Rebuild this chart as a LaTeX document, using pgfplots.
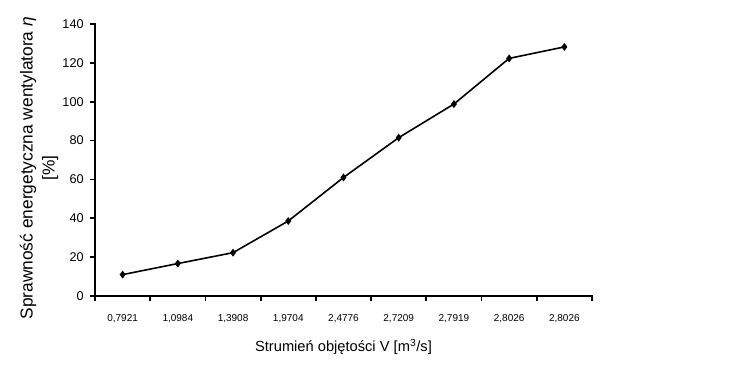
\documentclass[border=0pt]{standalone}
\usepackage{pgfplots}
\pgfplotsset{compat=1.18}
\usepackage{fontspec}
\setmainfont{Liberation Sans}
\begin{document}
\begin{tikzpicture}
\useasboundingbox (0,0) rectangle (549pt,279.75pt);
\begin{axis}[
  at={(71.25pt,57.75pt)}, anchor=south west,
  scale only axis,
  width=372.75pt, height=204pt,
  xmin=-0.5, xmax=8.5,
  ymin=0, ymax=140,
  axis x line*=bottom, axis y line*=left,
  xtick={0,...,8},
  xticklabels={{0,7921},{1,0984},{1,3908},{1,9704},{2,4776},{2,7209},{2,7919},{2,8026},{2,8026}},
  minor xtick={-0.5,0.5,...,8.5},
  ytick={0,20,...,140},
  major x tick style={draw=none},
  minor x tick style={line width=1.3pt, black},
  major y tick style={line width=1.3pt, black},
  tick align=outside,
  major tick length=4pt,
  minor tick length=4pt,
  /pgf/number format/assume math mode=true,
  x tick label style={font=\fontsize{7.5}{9}\selectfont, yshift=-6pt},
  y tick label style={font=\fontsize{9.5}{11}\selectfont, xshift=-1pt},
  xlabel={Strumień objętości V [m\textsuperscript{3}/s]},
  xlabel style={font=\fontsize{11}{13}\selectfont, at={(axis description cs:0.5,-0.1875)}, anchor=center},
  ylabel={Sprawność energetyczna wentylatora {\itshape η}\\{[\%]}},
  ylabel style={font=\fontsize{13}{16.5}\selectfont, align=center, at={(axis description cs:-0.1126,0.47)}, anchor=center, rotate=0},
  clip=false,
]
\addplot[black, line width=1.2pt, mark=diamond*, mark size=2pt] coordinates {
  (0,11.0) (1,16.7) (2,22.3) (3,38.6) (4,61.0) (5,81.5) (6,98.8) (7,122.3) (8,128.2)
};
\draw[line width=1.8pt, line cap=rect] (rel axis cs:0,1) -- (rel axis cs:0,0) -- (rel axis cs:1,0);
\end{axis}
\end{tikzpicture}
\end{document}
